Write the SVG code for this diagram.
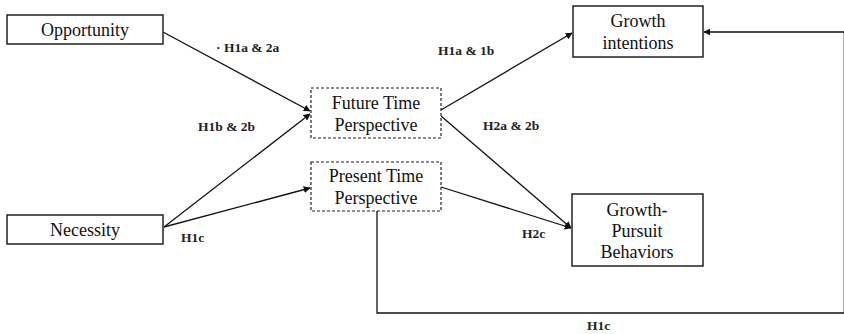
<svg xmlns="http://www.w3.org/2000/svg" width="844" height="334" viewBox="0 0 844 334">
<style>
.box{fill:#fff;stroke:#222;stroke-width:1.5}
.dash{fill:#fff;stroke:#222;stroke-width:1.2;stroke-dasharray:3,2}
.t{font-family:'Liberation Serif','DejaVu Serif',serif;font-size:18px;fill:#111;text-anchor:middle}
.lbl{font-family:'Liberation Serif','DejaVu Serif',serif;font-size:13.5px;font-weight:bold;fill:#222}
.c{fill:none;stroke:#111;stroke-width:1.3}
</style>
<defs>
<marker id="ah" viewBox="0 0 10 10" refX="9" refY="5" markerWidth="7" markerHeight="7" markerUnits="userSpaceOnUse" orient="auto">
<path d="M0,0 L10,5 L0,10 z" fill="#111"/>
</marker>
</defs>
<g id="connectors">
<line class="c" x1="163" y1="32" x2="310" y2="111" marker-end="url(#ah)"/>
<line class="c" x1="164" y1="227" x2="310" y2="114" marker-end="url(#ah)"/>
<line class="c" x1="164" y1="227" x2="310" y2="188" marker-end="url(#ah)"/>
<line class="c" x1="441" y1="110" x2="572" y2="33" marker-end="url(#ah)"/>
<line class="c" x1="441" y1="116" x2="571" y2="228" marker-end="url(#ah)"/>
<line class="c" x1="441" y1="187" x2="571" y2="228" marker-end="url(#ah)"/>
<polyline class="c" points="377,211 377,313 844.3,313 844.3,32 704,32" marker-end="url(#ah)"/>
<text class="lbl" x="216" y="52">· H1a &amp; 2a</text>
<text class="lbl" x="438" y="55">H1a &amp; 1b</text>
<text class="lbl" x="198" y="131">H1b &amp; 2b</text>
<text class="lbl" x="483" y="130">H2a &amp; 2b</text>
<text class="lbl" x="181" y="242">H1c</text>
<text class="lbl" x="522" y="238">H2c</text>
<text class="lbl" x="587" y="330">H1c</text>
</g>
<g id="opportunity">
<rect class="box" x="7" y="15" width="156" height="29"/>
<text class="t" x="85" y="36">Opportunity</text>
</g>
<g id="necessity">
<rect class="box" x="7" y="215" width="156" height="29"/>
<text class="t" x="85" y="236">Necessity</text>
</g>
<g id="future">
<rect class="dash" x="311" y="88" width="130" height="50"/>
<text class="t" x="376" y="109">Future Time</text>
<text class="t" x="376" y="131">Perspective</text>
</g>
<g id="present">
<rect class="dash" x="311" y="162" width="130" height="49"/>
<text class="t" x="376" y="182">Present Time</text>
<text class="t" x="376" y="204">Perspective</text>
</g>
<g id="growth-intentions">
<rect class="box" x="573" y="6" width="130" height="51"/>
<text class="t" x="638" y="27">Growth</text>
<text class="t" x="638" y="49">intentions</text>
</g>
<g id="growth-pursuit">
<rect class="box" x="572" y="194" width="131" height="72"/>
<text class="t" x="637" y="216">Growth-</text>
<text class="t" x="637" y="237">Pursuit</text>
<text class="t" x="637" y="258">Behaviors</text>
</g>
</svg>
